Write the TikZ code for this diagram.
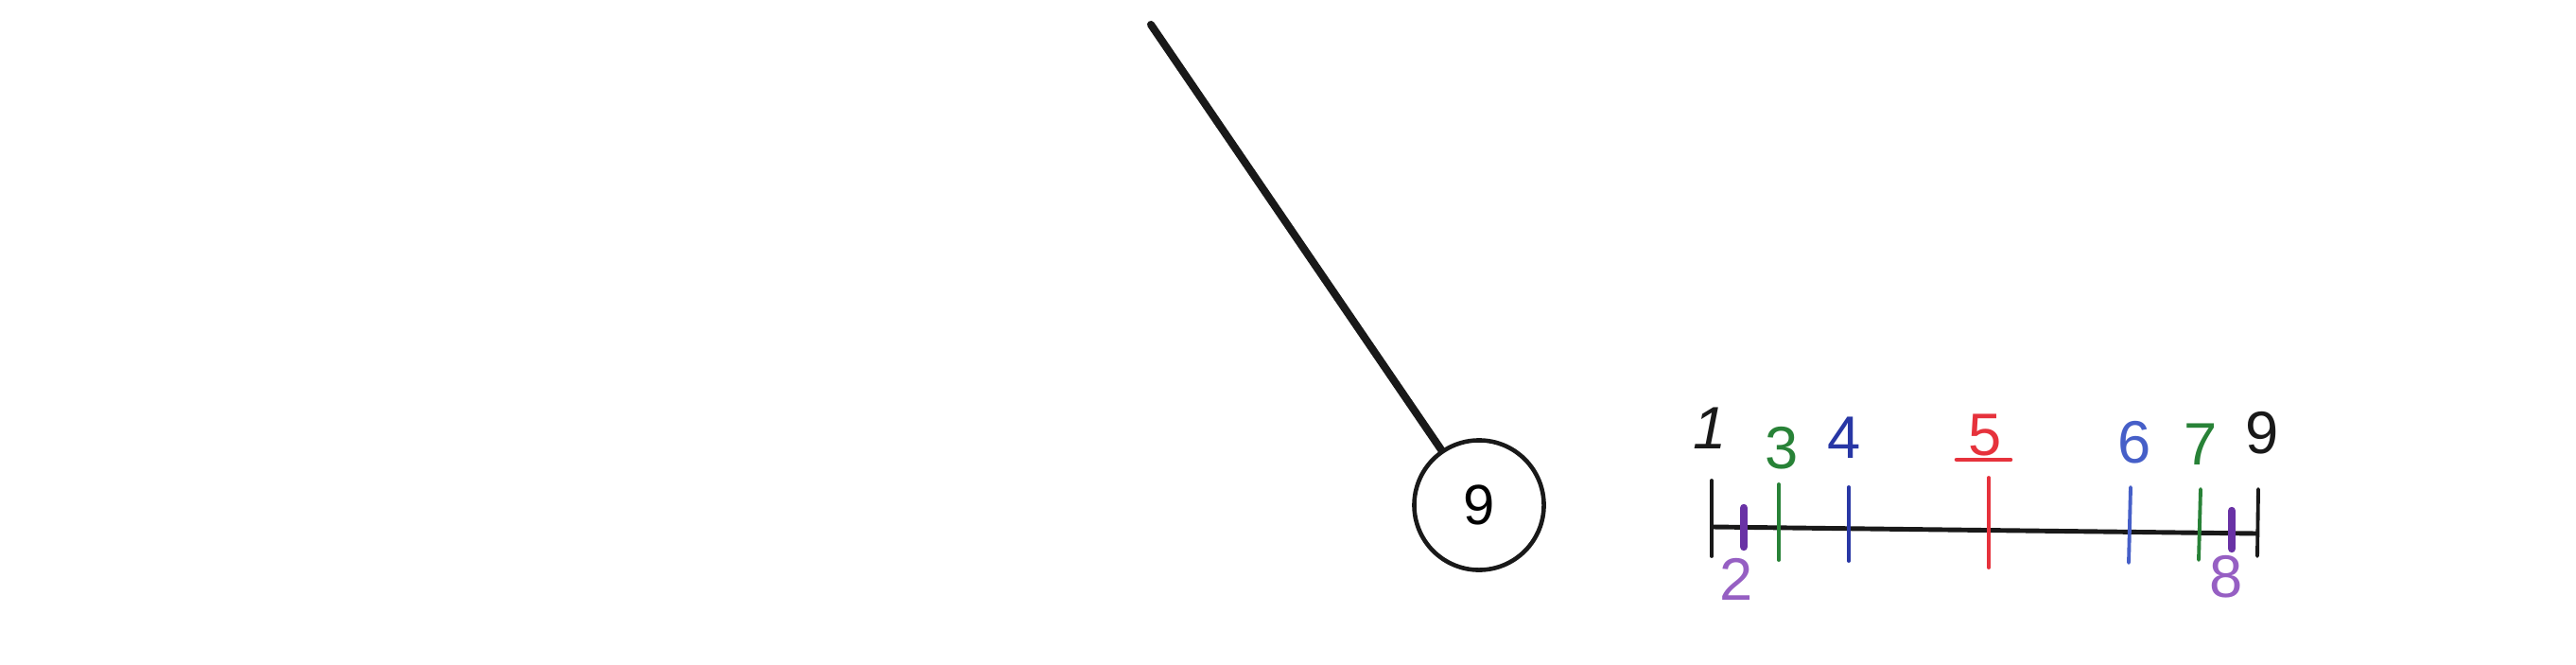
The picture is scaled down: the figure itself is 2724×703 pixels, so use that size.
\documentclass[tikz,border=0pt]{standalone}
\usepackage{fontspec}
\setmainfont{Liberation Sans}
\definecolor{ink}{RGB}{25,25,25}
\definecolor{grn}{RGB}{40,130,55}
\definecolor{blu}{RGB}{40,55,165}
\definecolor{lblu}{RGB}{70,95,200}
\definecolor{rd}{RGB}{230,50,60}
\definecolor{prp}{RGB}{105,50,165}
\definecolor{lprp}{RGB}{150,95,195}
\begin{document}
\begin{tikzpicture}[x=0.01cm,y=-0.01cm,
  lbl/.style={font=\fontsize{18}{18}\selectfont, inner sep=0pt},
  tickline/.style={line width=1.1pt, line cap=round},
  thicktick/.style={line width=2.4pt, line cap=round},
  bobstyle/.style={draw=ink, circle, line width=1.3pt, minimum size=1.37cm,
    inner sep=0pt, font=\fontsize{17}{17}\selectfont},
  rod/.style={ink, line width=2.3pt, line cap=round},
  axis/.style={ink, line width=1.4pt, line cap=round}]
\useasboundingbox[fill=white] (0,0) rectangle (2724,703);

% pendulum
\coordinate (pivot) at (1217,26);
\node[bobstyle] (bob) at (1564,534) {9};
\draw[rod] (pivot) -- (bob);

% number line
\coordinate (L) at (1811,557);
\coordinate (R) at (2386,564);
\draw[axis] (L) -- (R);

% ticks
\coordinate (t1a) at (1810,508); \coordinate (t1b) at (1810,588);
\coordinate (t2a) at (1844,537); \coordinate (t2b) at (1844,578);
\coordinate (t3a) at (1881,512); \coordinate (t3b) at (1881,592);
\coordinate (t4a) at (1955,515); \coordinate (t4b) at (1955,593);
\coordinate (t5a) at (2103,505); \coordinate (t5b) at (2103,600);
\coordinate (t6a) at (2253,515); \coordinate (t6b) at (2251,595);
\coordinate (t7a) at (2327,517); \coordinate (t7b) at (2325,592);
\coordinate (t8a) at (2360,540); \coordinate (t8b) at (2360,580);
\coordinate (t9a) at (2388,517); \coordinate (t9b) at (2387,588);

\draw[tickline, ink] (t1a) -- (t1b);
\draw[thicktick, prp] (t2a) -- (t2b);
\draw[tickline, grn] (t3a) -- (t3b);
\draw[tickline, blu] (t4a) -- (t4b);
\draw[tickline, rd] (t5a) -- (t5b);
\draw[tickline, lblu] (t6a) -- (t6b);
\draw[tickline, grn] (t7a) -- (t7b);
\draw[thicktick, prp] (t8a) -- (t8b);
\draw[tickline, ink] (t9a) -- (t9b);

% labels
\node[lbl, text=ink] (n1) at (1808,453) {\itshape 1};
\node[lbl, text=lprp] (n2) at (1836,612) {2};
\node[lbl, text=grn] (n3) at (1884,474) {3};
\node[lbl, text=blu] (n4) at (1950,463) {4};
\node[lbl, text=rd] (n5) at (2099,460) {5};
\node[lbl, text=lblu] (n6) at (2257,468) {6};
\node[lbl, text=grn] (n7) at (2327,470) {7};
\node[lbl, text=lprp] (n8) at (2354,610) {8};
\node[lbl, text=ink] (n9) at (2392,458) {9};

\coordinate (u5a) at (2069,486);
\coordinate (u5b) at (2126,486);
\draw[rd, line width=1.3pt, line cap=round] (u5a) -- (u5b);
\end{tikzpicture}
\end{document}
